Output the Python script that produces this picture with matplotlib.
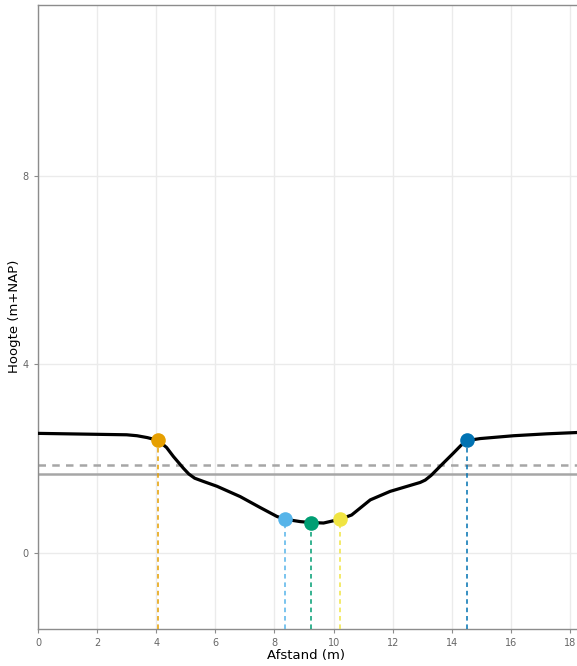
import matplotlib
matplotlib.use("Agg")
import matplotlib.pyplot as plt

# Cross-section profile (distance in m, height in m+NAP)
afstand = [0.0, 2.0, 3.0, 3.35, 3.7, 4.07, 4.35, 4.58, 4.92, 5.1, 5.3, 5.6, 6.05,
           6.84, 7.51, 8.08, 8.36, 8.87, 9.23, 9.66, 10.22, 10.61, 11.24,
           11.91, 12.93, 13.1, 13.3, 13.6, 14.05, 14.3, 14.51, 14.75, 14.96,
           16.09, 17.2, 18.3]
hoogte = [2.54, 2.52, 2.51, 2.49, 2.45, 2.39, 2.24, 2.05, 1.80, 1.68, 1.59, 1.52,
          1.42, 1.20, 0.97, 0.78, 0.72, 0.67, 0.65, 0.64, 0.72, 0.81, 1.13,
          1.31, 1.50, 1.55, 1.65, 1.84, 2.12, 2.28, 2.39, 2.41, 2.43,
          2.49, 2.53, 2.56]

# Marked points along the profile
punt_x = [4.07, 8.36, 9.23, 10.22, 14.51]
punt_y = [2.39, 0.72, 0.65, 0.72, 2.39]
punt_kleur = ["#E69F00", "#56B4E9", "#009E73", "#F0E442", "#0072B2"]

# Reference water levels
peil_gestreept = 1.86
peil_doorgetrokken = 1.67

x_ticks = [0, 2, 4, 6, 8, 10, 12, 14, 16, 18]
y_ticks = [0, 4, 8]

W, H = 577, 666
fig = plt.figure(figsize=(W / 100, H / 100), dpi=100)
left, right = 38 / W, 1.0
bottom, top = 1 - 628.7 / H, 1 - 4.5 / H
ax = fig.add_axes([left, bottom, right - left, top - bottom])

ymin, ymax = -1.6, 11.63
xmin, xmax = 0.0, (577 - 38) / 29.56
ax.set_xlim(xmin, xmax)
ax.set_ylim(ymin, ymax)

ax.set_xticks(x_ticks)
ax.set_yticks(y_ticks)
ax.grid(True, color="#EBEBEB", lw=1.0, zorder=0)
ax.set_axisbelow(True)

for side in ("left", "bottom", "top"):
    ax.spines[side].set_color("#8C8C8C")
    ax.spines[side].set_linewidth(1.0)
ax.spines["right"].set_visible(False)

ax.tick_params(axis="both", colors="#8C8C8C", labelcolor="#666666",
               labelsize=7, length=3, width=0.8)

ax.axhline(peil_doorgetrokken, color="#A6A6A6", lw=1.8, zorder=2)
ax.axhline(peil_gestreept, color="#A6A6A6", lw=1.8, ls=(0, (3, 2.5)), zorder=2)

for px, py, c in zip(punt_x, punt_y, punt_kleur):
    ax.plot([px, px], [ymin, py], color=c, lw=1.1, ls=(0, (3, 2.5)), zorder=3)

ax.plot(afstand, hoogte, color="black", lw=2.3, solid_joinstyle="round",
        solid_capstyle="round", zorder=4)

for px, py, c in zip(punt_x, punt_y, punt_kleur):
    ax.plot(px, py, "o", color=c, ms=10.5, mec="none", zorder=5)

ax.set_xlabel("Afstand (m)", fontsize=9.5, color="black", labelpad=2)
ax.set_ylabel("Hoogte (m+NAP)", fontsize=9.5, color="black")
ax.xaxis.set_label_coords((306 - 38) / (577 - 38), -0.032)
ax.yaxis.set_label_coords(-(38 - 21) / (577 - 38), 0.5)

fig.savefig("out.png", dpi=100)
